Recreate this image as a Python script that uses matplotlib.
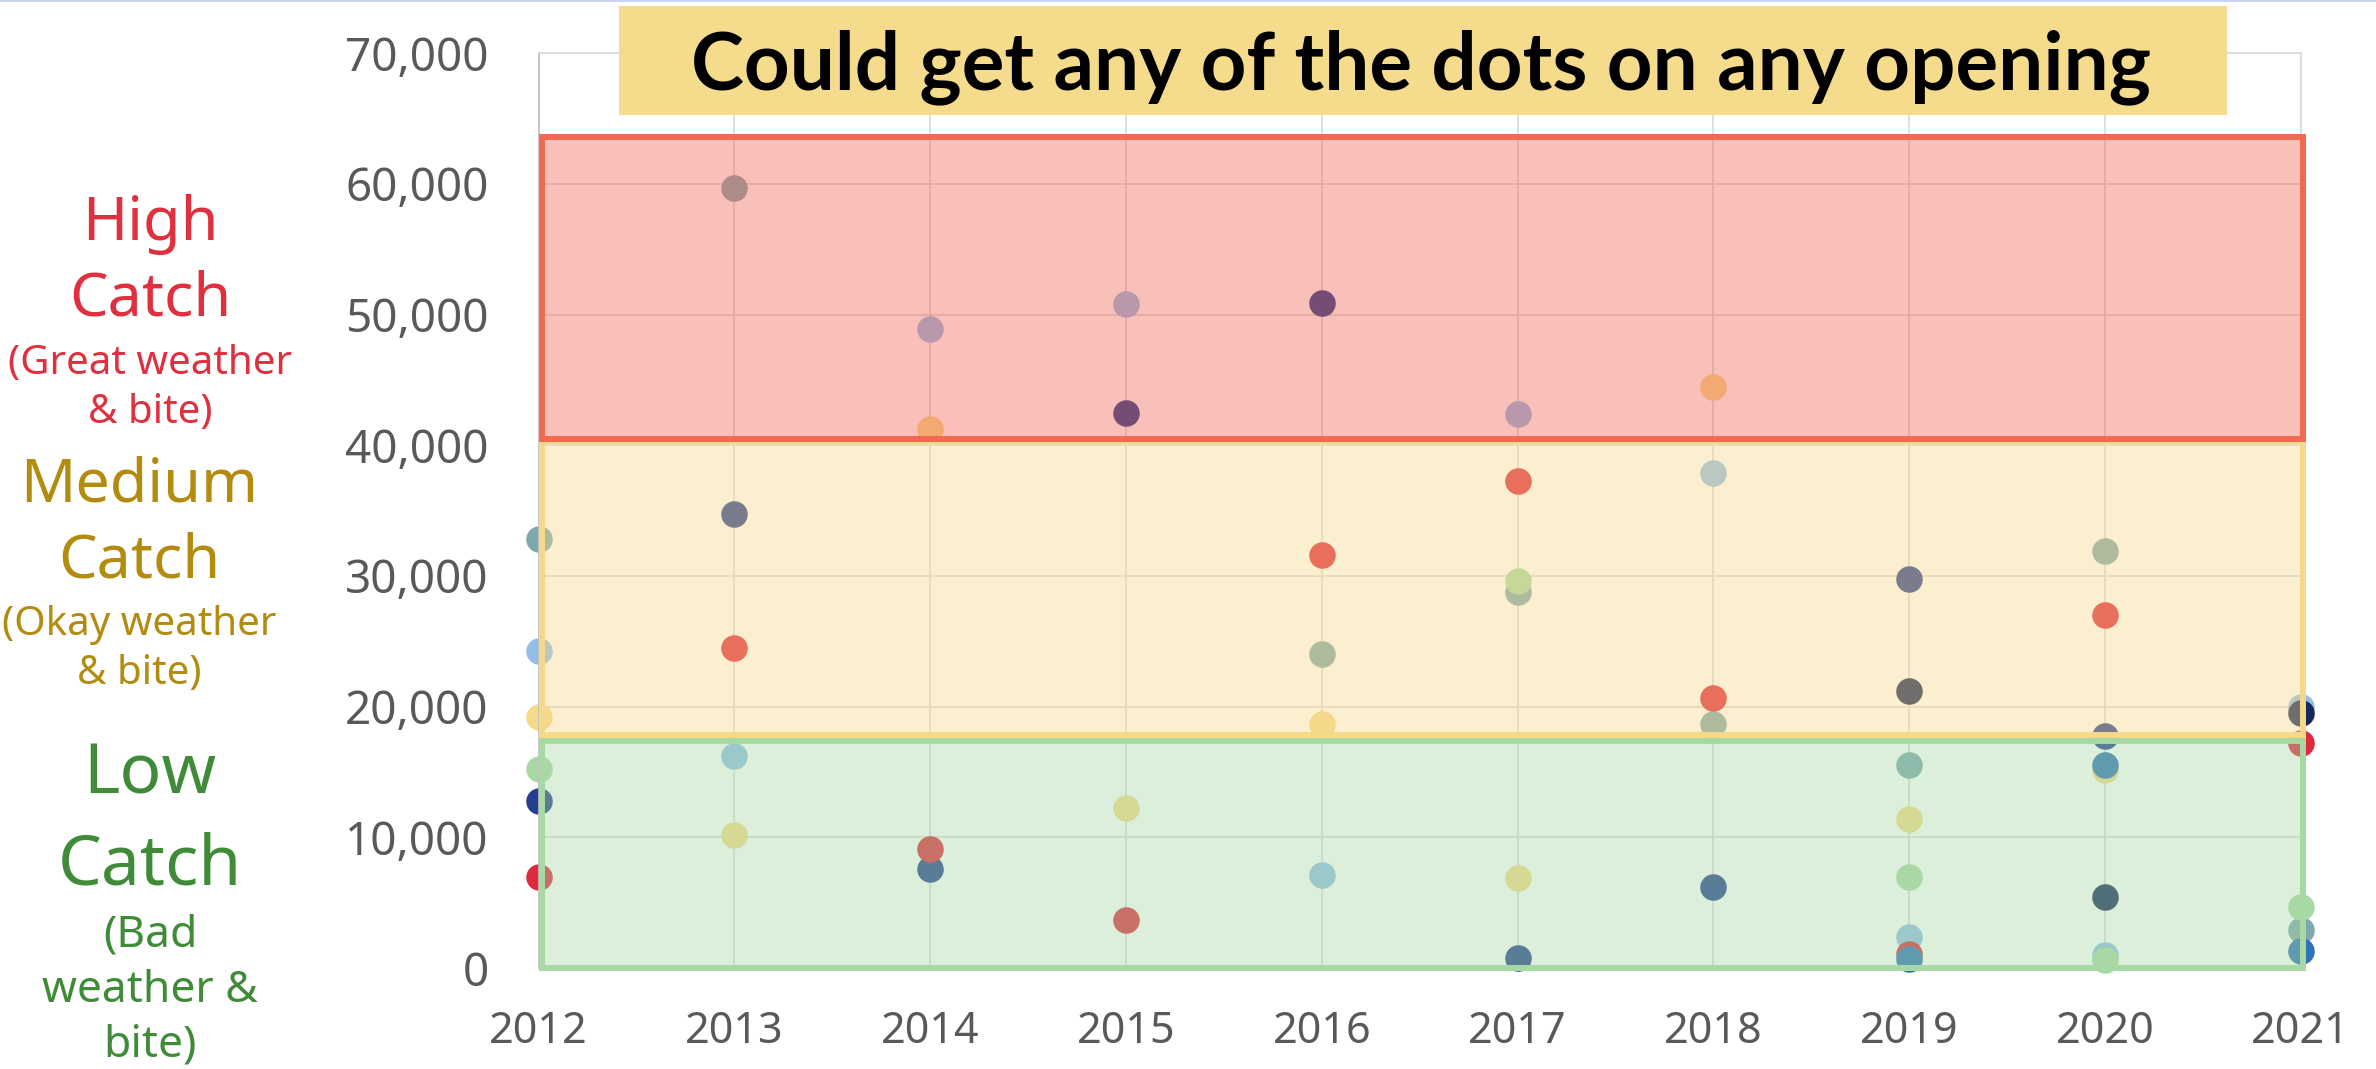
import matplotlib
matplotlib.use('Agg')
import matplotlib.pyplot as plt
from matplotlib.patches import Rectangle
from matplotlib.ticker import FuncFormatter
from matplotlib import font_manager

# catch per opening, one list per opening (None = no opening that year)
years = [2012, 2013, 2014, 2015, 2016, 2017, 2018, 2019, 2020, 2021]
opening_1 = [32850, 59700, None, None, 24000, 28800, 18700, 15500, 31900, 2900]
opening_2 = [24240, 16200, 48900, 50800, 7100, 42400, 37900, 2400, 1000, 20000]
opening_3 = [19180, 10150, 41260, 12260, 18700, 6870, 44500, 11430, 15170, None]
opening_4 = [15250, None, None, None, None, 29630, None, 6940, 610, 4650]
opening_5 = [12800, 34740, 7560, 42510, 50890, 770, 6170, 29770, 17780, None]
opening_6 = [6950, 24460, 9120, 3640, 31580, 37240, 20650, 1070, 27000, 17220]
opening_7 = [None, None, None, None, None, None, None, 21180, 5420, 19510]
opening_8 = [None, None, None, None, None, None, None, 670, 15530, 1330]

openings = [opening_1, opening_2, opening_3, opening_4,
            opening_5, opening_6, opening_7, opening_8]
dot_colors = ['#7FA8AE', '#93BEE6', '#F5DA8A', '#A8D8A4',
              '#253F8F', '#DE2A3E', '#16285A', '#2F72B6']

# catch bands (low, high)
band_high = (40460, 63580)
band_medium = (17850, 40300)
band_low = (0, 17340)

W, H = 2376, 1069
names = {f.name for f in font_manager.fontManager.ttflist}
def pick(*cands):
    return next((c for c in cands if c in names), 'DejaVu Sans')
base_font = pick('Noto Sans', 'Open Sans', 'DejaVu Sans')
title_font = pick('Liberation Sans Narrow', 'Lato', 'Noto Sans')
plt.rcParams['font.family'] = [base_font, 'DejaVu Sans']

fig = plt.figure(figsize=(W / 100, H / 100), dpi=100)
ax = fig.add_axes([538.7 / W, (H - 968) / H, (2300.6 - 538.7) / W, (968 - 53.3) / H])

for vals, col in zip(openings, dot_colors):
    xs = [y for y, v in zip(years, vals) if v is not None]
    ys = [v for v in vals if v is not None]
    ax.scatter(xs, ys, s=365, color=col, linewidths=0, zorder=2, clip_on=False)

# shaded bands over the dots
x0, x1 = years[0] + 0.015, years[-1] + 0.012
for (lo, hi), face, edge in [(band_low, '#A8D8A4', '#A8D8A4'),
                             (band_medium, '#F5D98A', '#F5D98A'),
                             (band_high, '#F06050', '#F06A50')]:
    ax.add_patch(Rectangle((x0, lo), x1 - x0, hi - lo, facecolor=(face, 0.4),
                           edgecolor=edge, lw=4.3, zorder=3, clip_on=False))

ax.set_xlim(years[0], years[-1])
ax.set_ylim(0, 70000)
ax.set_xticks(years)
ax.set_yticks(range(0, 70001, 10000))
ax.yaxis.set_major_formatter(FuncFormatter(lambda v, p: f'{int(v):,}'))
ax.tick_params(length=0, colors='#595959')
ax.tick_params(axis='y', labelsize=33, pad=36)
ax.tick_params(axis='x', labelsize=31, pad=30)
ax.grid(True, color='#D9D9D9', lw=1.2)
ax.set_axisbelow(True)
for s in ax.spines.values():
    s.set_color('#D9D9D9')
    s.set_linewidth(1.2)
ax.spines['left'].set_color('#BFBFBF')
ax.spines['bottom'].set_color('#BFBFBF')

# thin strip at the very top of the screenshot
fig.add_artist(Rectangle((0, 1 - 2 / H), 1, 2 / H, transform=fig.transFigure,
                         color='#C9D3F2', lw=0))

# title box
fig.add_artist(Rectangle((619 / W, 1 - 115 / H), (2227 - 619) / W, 109 / H,
                         transform=fig.transFigure, color='#F5DC8C', lw=0))
title = fig.text(1421 / W, 1 - 89.3 / H, 'Could get any of the dots on any opening',
                 ha='center', va='baseline', fontsize=54, fontweight='bold',
                 family=[title_font, 'DejaVu Sans'], color='black')
fig.canvas.draw()
tw = title.get_window_extent().width
title.set_fontsize(54 * 1460 / tw)

# band labels on the left
groups = [
    ('#E0303F', 150, [('High', 44, 240), ('Catch', 44, 315.6),
                      ('(Great weather', 29, 373.6), ('& bite)', 29, 422.6)]),
    ('#B38B0E', 139, [('Medium', 44, 502), ('Catch', 44, 578),
                      ('(Okay weather', 29, 635), ('& bite)', 29, 683.7)]),
    ('#3F8B38', 150, [('Low', 50, 794), ('Catch', 50, 884.8), ('(Bad', 32, 947),
                      ('weather &', 32, 1002), ('bite)', 32, 1057)]),
]
for col, cx, lines in groups:
    for txt, size, base in lines:
        fig.text(cx / W, 1 - base / H, txt, ha='center', va='baseline',
                 fontsize=size, color=col)

fig.savefig('out.png', dpi=100)
